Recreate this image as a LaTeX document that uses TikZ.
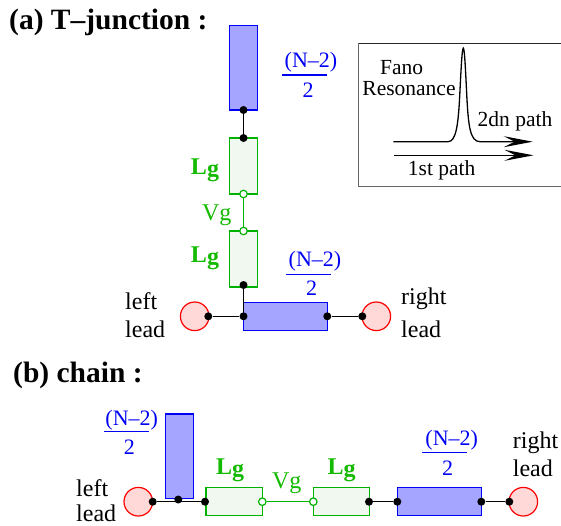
\documentclass[tikz,border=0pt]{standalone}
\usepackage{fontspec}
\setmainfont{Liberation Serif}
\usetikzlibrary{arrows.meta}
\definecolor{wireblue}{RGB}{0,0,245}
\definecolor{barfill}{RGB}{165,165,255}
\definecolor{gatefill}{RGB}{240,248,240}
\definecolor{gategreen}{RGB}{0,178,0}
\definecolor{leadfill}{RGB}{255,216,216}
\tikzset{
	blockv/.style={draw=wireblue,fill=barfill,line width=1.2pt,minimum width=28.4pt,minimum height=84.3pt,inner sep=0pt},
	blockh/.style={draw=wireblue,fill=barfill,line width=1.2pt,minimum width=84pt,minimum height=28pt,inner sep=0pt},
	gatev/.style={draw=gategreen,fill=gatefill,line width=1.2pt,minimum width=28.4pt,minimum height=56pt,inner sep=0pt},
	gateh/.style={draw=gategreen,fill=gatefill,line width=1.2pt,minimum width=56.3pt,minimum height=28pt,inner sep=0pt},
	leadc/.style={circle,draw=red,fill=leadfill,line width=1.2pt,minimum size=28.6pt,inner sep=0pt},
	dot/.style={circle,fill=black,minimum size=8pt,inner sep=0pt},
	hdot/.style={circle,draw=gategreen,fill=white,line width=1.2pt,minimum size=7.5pt,inner sep=0pt},
	txt/.style={font=\fontsize{24}{26}\selectfont,inner sep=0pt},
	itxt/.style={font=\fontsize{21.5}{24}\selectfont,inner sep=0pt},
	ntxt/.style={font=\fontsize{22}{24}\selectfont,text=wireblue,inner sep=0pt},
	gtxt/.style={font=\fontsize{24}{26}\selectfont\bfseries,text=gategreen!90!lime,inner sep=0pt},
	vtxt/.style={font=\fontsize{24}{26}\selectfont,text=gategreen!90!lime,inner sep=0pt},
	ttxt/.style={font=\fontsize{29.5}{32}\selectfont\bfseries,inner sep=0pt,anchor=west},
	wire/.style={line width=1.5pt,black},
	gwire/.style={line width=1.2pt,gategreen},
	nbar/.style={wireblue,line width=1.2pt},
	path arrow/.style={line width=1.3pt,-{Stealth[length=29pt,width=11pt,inset=11pt]}},
}
\begin{document}
\begin{tikzpicture}[x=1pt,y=-1pt]
	\useasboundingbox (0,0) rectangle (561,525);
	\node[ttxt] (titlea) at (9,22) {(a) T–junction :};
	\node[ttxt] (titleb) at (13,375) {(b) chain :};
	% T-junction
	\node[blockv] (topbar) at (243.5,67.9) {};
	\node[gatev] (gateone) at (243.5,166) {};
	\node[gatev] (gatetwo) at (243.5,259) {};
	\node[blockh] (sidebar) at (285.4,316.3) {};
	\node[leadc] (leadl) at (194.7,316.3) {};
	\node[leadc] (leadr) at (376.3,316.3) {};
	\node[dot] (a1) at (243.5,110) {};
	\node[dot] (a2) at (243.5,138) {};
	\node[hdot] (a3) at (243.5,194) {};
	\node[hdot] (a4) at (243.5,231) {};
	\node[dot] (a5) at (243.5,285) {};
	\node[dot] (a6) at (243.5,316.3) {};
	\node[dot] (a7) at (208.3,316.3) {};
	\node[dot] (a8) at (327.3,316.3) {};
	\node[dot] (a9) at (362.3,316.3) {};
	\draw[wire] (a1) -- (a2);
	\draw[gwire] (a3) -- (a4);
	\draw[wire] (a5) -- (a6);
	\draw[wire] (a7) -- (a6);
	\draw[wire] (a8) -- (a9);
	\node[gtxt] (lga) at (205,170) {L\raisebox{-2pt}{g}};
	\node[gtxt] (lgb) at (205,258) {L\raisebox{-2pt}{g}};
	\node[vtxt] (vga) at (216.7,215) {Vg};
	\node[txt,anchor=west] (lefta) at (125,301) {left};
	\node[txt,anchor=west] (leftb) at (125,329) {lead};
	\node[txt,anchor=west] (righta) at (401,299) {right};
	\node[txt,anchor=west] (rightb) at (401,329) {lead};
	\node[ntxt] (na) at (311,62) {(N–2)};
	\node[ntxt] (nb) at (308,90) {2};
	\draw[nbar] (282,75) -- (327,75);
	\node[ntxt] (nc) at (315,261) {(N–2)};
	\node[ntxt] (nd) at (311.7,288) {2};
	\draw[nbar] (285.7,274.3) -- (330.7,274.3);
	% inset
	\draw[black!60,line width=1.5pt] (358.7,43.3) -- (358.7,186.7) -- (561,186.7);
	\draw[black!85,line width=1.1pt] (358.7,43.3) -- (561,43.3);
	\node[itxt] (fano) at (401.7,68) {Fano};
	\node[itxt] (reso) at (409,89) {Resonance};
	\node[itxt] (second) at (515,121) {2dn path};
	\node[itxt] (first) at (441.7,170.7) {1st path};
	\draw[path arrow] (393.3,141.7) -- (448,141.7) .. controls (456,141.7) and (458,125) .. (459.5,100) .. controls (461,70) and (462,48.3) .. (463.3,48.3) .. controls (464.6,48.3) and (465.5,70) .. (467,100) .. controls (468.5,125) and (470,141.7) .. (480,141.7) -- (532.7,141.7);
	\draw[path arrow] (394,155.3) -- (533.5,155.3);
	% chain
	\node[blockv] (upbar) at (179.5,456.2) {};
	\node[gateh] (gatel) at (234.1,501.7) {};
	\node[gateh] (gater) at (341.5,501.7) {};
	\node[blockh] (endbar) at (439.3,501.7) {};
	\node[leadc] (chainl) at (138.3,501.7) {};
	\node[leadc] (chainr) at (523.3,501.7) {};
	\node[dot] (b1) at (152.7,501.7) {};
	\node[dot] (b2) at (178.3,499.5) {};
	\node[dot] (b3) at (205,501.7) {};
	\node[hdot] (b4) at (262.3,501.7) {};
	\node[hdot] (b5) at (313.3,501.7) {};
	\node[dot] (b6) at (369,501.7) {};
	\node[dot] (b7) at (397.3,501.7) {};
	\node[dot] (b8) at (481.3,501.7) {};
	\node[dot] (b9) at (509.3,501.7) {};
	\draw[wire] (b1) -- (b3);
	\draw[gwire] (b4) -- (b5);
	\draw[wire] (b6) -- (b7);
	\draw[wire] (b8) -- (b9);
	\node[gtxt] (lgc) at (230,470) {L\raisebox{-2pt}{g}};
	\node[gtxt] (lgd) at (341.7,470) {L\raisebox{-2pt}{g}};
	\node[vtxt] (vgb) at (286.7,483) {Vg};
	\node[txt,anchor=west] (leftc) at (76,488) {left};
	\node[txt,anchor=west] (leftd) at (76,513.5) {lead};
	\node[txt,anchor=west] (rightc) at (512.7,442.7) {right};
	\node[txt,anchor=west] (rightd) at (512.7,468) {lead};
	\node[ntxt] (ne) at (131.7,420) {(N–2)};
	\node[ntxt] (nf) at (129.3,447.7) {2};
	\draw[nbar] (104,431.7) -- (149,431.7);
	\node[ntxt] (ng) at (451.7,440) {(N–2)};
	\node[ntxt] (nh) at (447.7,468.3) {2};
	\draw[nbar] (422.3,452.3) -- (467.3,452.3);
\end{tikzpicture}
\end{document}
